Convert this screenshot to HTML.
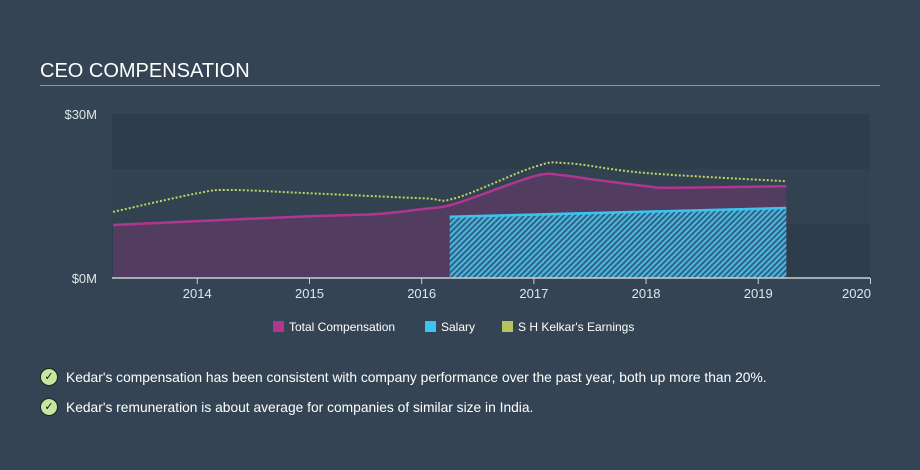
<!DOCTYPE html>
<html><head><meta charset="utf-8"><style>
body{margin:0;background:#344454;font-family:"Liberation Sans",sans-serif;width:920px;height:470px;overflow:hidden;position:relative}
.t{position:absolute;left:40px;top:60px;color:#fff;font-size:20px}
.hr{position:absolute;left:40px;top:85px;width:840px;height:1px;background:#8a97a3}
.b{position:absolute;left:40px;color:#fff;font-size:13.8px;display:flex;align-items:center}
.ck{width:16px;height:16px;border-radius:50%;background:#c8e6a0;border:1px solid #222;margin-right:8px;font-size:11px;color:#111;text-align:center;line-height:16px}
</style></head><body>
<div class="t">CEO COMPENSATION</div>
<div class="hr"></div>
<svg id="c" width="920" height="470" style="position:absolute;left:0;top:0"></svg>
<div class="b" style="top:368px"><span class="ck">✓</span>Kedar's compensation has been consistent with company performance over the past year, both up more than 20%.</div>
<div class="b" style="top:398px"><span class="ck">✓</span>Kedar's remuneration is about average for companies of similar size in India.</div>
<script>
const totalX=[2013.25,2014,2015,2015.6,2016,2016.3,2017,2017.25,2017.5,2018,2018.25,2019.25];
const totalV=[9.7,10.4,11.3,11.7,12.6,13.6,18.6,18.8,18.1,16.8,16.5,16.8];
const salaryX=[2016.25,2019.25];
const salaryV=[11.2,12.8];
const earnX=[2013.25,2014,2014.3,2015,2016,2016.3,2017,2017.3,2018,2019.25];
const earnV=[12.1,15.5,16.1,15.5,14.6,14.6,20.3,21,19.2,17.7];
const xTicks=[2014,2015,2016,2017,2018,2019,2020];
const yTicks=[0,30];
const NS="http://www.w3.org/2000/svg",svg=document.getElementById('c');
const X=v=>112+(v-2013.24)*112.2, Y=v=>278-v*164/30;
function mk(t,a){const e=document.createElementNS(NS,t);for(const k in a)e.setAttribute(k,a[k]);svg.appendChild(e);return e;}
svg.innerHTML='<defs><pattern id="h" width="4" height="4" patternUnits="userSpaceOnUse" patternTransform="rotate(45)"><rect width="4" height="4" fill="#2c6487"/><rect width="2" height="4" fill="#52b6dc"/></pattern></defs>';
[[114,'#2e3d4b'],[169,'#324251'],[224,'#2e3d4b']].forEach((b,i)=>{const r=mk('rect',{x:112,y:b[0],width:758,height:55,fill:b[1]});

});
function path(xs,vs){const p=xs.map((x,i)=>[X(x),Y(vs[i])]);let d='M'+p[0];for(let i=0;i<p.length-1;i++){const a=p[i-1]||p[i],b=p[i],c=p[i+1],e=p[i+2]||c;
d+=' C'+(b[0]+(c[0]-a[0])/6)+','+(b[1]+(c[1]-a[1])/6)+' '+(c[0]-(e[0]-b[0])/6)+','+(c[1]-(e[1]-b[1])/6)+' '+c;}return d;}
const tp=path(totalX,totalV);
let e=mk('path',{d:tp+` L${X(totalX[totalX.length-1])},278 L${X(totalX[0])},278Z`,fill:'#523d60'});


const sp=path(salaryX,salaryV);
e=mk('path',{d:sp+` L${X(salaryX[1])},278 L${X(salaryX[0])},278Z`,fill:'url(#h)'});


e=mk('path',{d:sp,fill:'none',stroke:'#3bc4f2','stroke-width':2.5});


e=mk('path',{d:tp,fill:'none',stroke:'#b0368f','stroke-width':2.5});


e=mk('path',{d:path(earnX,earnV),fill:'none',stroke:'#c3d45e','stroke-width':2,'stroke-dasharray':'2 2'});


e=mk('line',{x1:112,x2:870,y1:278,y2:278,stroke:'#c8d0d8','stroke-width':1.5});


xTicks.forEach(t=>{let l=mk('line',{x1:X(t),x2:X(t),y1:278,y2:284,stroke:'#c8d0d8'});


let s=mk('text',{x:X(t)-(t==2020?14:0),y:298,fill:'#e0e6ea','font-size':13,'text-anchor':'middle'});s.textContent=t;

});
yTicks.forEach(t=>{let s=mk('text',{x:97,y:Y(t)+5,fill:'#e0e6ea','font-size':13,'text-anchor':'end'});s.textContent='$'+t+'M';

});
[['#b0368f','Total Compensation',273],['#3bc4f2','Salary',425],['#b7c45e','S H Kelkar\'s Earnings',502]].forEach(l=>{
let r=mk('rect',{x:l[2],y:321,width:11,height:11,fill:l[0]});


let s=mk('text',{x:l[2]+16,y:331,fill:'#fff','font-size':12});s.textContent=l[1];

});
</script>
</body></html>
